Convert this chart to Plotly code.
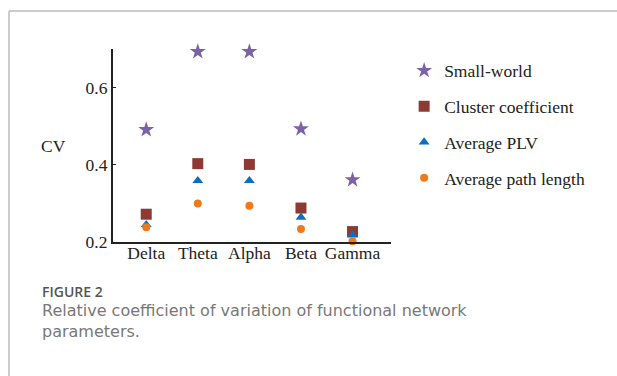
import plotly.graph_objects as go

# Frequency bands and coefficient-of-variation values per network measure
bands = ["Delta", "Theta", "Alpha", "Beta", "Gamma"]
band_pos = [1, 2, 3, 4, 5]
small_world = [0.491, 0.693, 0.693, 0.493, 0.361]
cluster_coef = [0.272, 0.403, 0.401, 0.288, 0.227]
avg_plv = [0.245, 0.359, 0.359, 0.264, 0.218]
avg_path_len = [0.238, 0.300, 0.294, 0.234, 0.202]
y_ticks = [0.2, 0.4, 0.6]

W, H = 617, 376
serif = "Liberation Serif, Times New Roman, serif"
sans = "Open Sans, Lato, sans-serif"
ink = "#222222"

series = [
    ("Small-world", small_world, "star", 12, "#7B62A6"),
    ("Cluster coefficient", cluster_coef, "square", 11, "#8E3A33"),
    ("Average PLV", avg_plv, "triangle-up", 9.5, "#0A6FC0"),
    ("Average path length", avg_path_len, "circle", 8, "#EE7A1C"),
]

fig = go.Figure()
for i, (name, vals, sym, size, col) in enumerate(series):
    fig.add_trace(go.Scatter(
        x=band_pos, y=vals, mode="markers", name=name,
        legendgroup=f"g{i}", cliponaxis=False,
        marker=dict(symbol=sym, size=size, color=col, line=dict(width=0)),
    ))

fig.update_layout(
    template="none",
    width=W, height=H,
    margin=dict(l=0, r=0, t=0, b=0, pad=0),
    paper_bgcolor="white", plot_bgcolor="white",
    showlegend=True,
    legend=dict(
        x=0.655, y=0.86, xanchor="left", yanchor="top",
        font=dict(family=serif, size=17.5, color=ink),
        tracegroupgap=10, bgcolor="rgba(0,0,0,0)",
        itemsizing="trace", borderwidth=0,
    ),
    xaxis=dict(
        domain=[112.7 / W, 390.7 / W],
        range=[0.35, 5.74], automargin=False,
        tickvals=band_pos, ticktext=bands,
        ticks="", ticklabelstandoff=-6,
        showgrid=False, zeroline=False,
        showline=True, linecolor=ink, linewidth=1.6,
        tickfont=dict(family=serif, size=17.5, color=ink),
    ),
    yaxis=dict(
        domain=[(H - 242) / H, (H - 49) / H],
        range=[0.2, 0.7], automargin=False,
        tickvals=y_ticks, ticktext=["0.2", "0.4", "0.6"],
        ticks="inside", ticklen=3, tickcolor=ink, tickwidth=1,
        showgrid=False, zeroline=False,
        showline=True, linecolor=ink, linewidth=1.6,
        tickfont=dict(family=serif, size=17.5, color=ink),
    ),
    shapes=[
        # frame lines of the figure panel
        dict(type="line", xref="paper", yref="paper",
             x0=9 / W, x1=1.0, y0=(H - 11) / H, y1=(H - 11) / H,
             line=dict(color="#BBBBBB", width=1.5)),
        dict(type="line", xref="paper", yref="paper",
             x0=9 / W, x1=9 / W, y0=0, y1=(H - 11) / H,
             line=dict(color="#BBBBBB", width=1.5)),
    ],
    annotations=[
        dict(text="CV", xref="paper", yref="paper",
             x=53 / W, y=(H - 146) / H, xanchor="center", yanchor="middle",
             showarrow=False, font=dict(family=serif, size=17.5, color=ink)),
        dict(text="FIGURE 2", xref="paper", yref="paper",
             x=40 / W, y=(H - 291) / H, xanchor="left", yanchor="middle",
             showarrow=False,
             font=dict(family=sans, size=14, color="#555555", weight=600)),
        dict(text="Relative coefficient of variation of functional network<br>parameters.",
             xref="paper", yref="paper", align="left",
             x=40 / W, y=(H - 299) / H, xanchor="left", yanchor="top",
             showarrow=False,
             font=dict(family="DejaVu Sans, sans-serif", size=16, color="#787878")),
    ],
)

fig.write_html("out.html")
